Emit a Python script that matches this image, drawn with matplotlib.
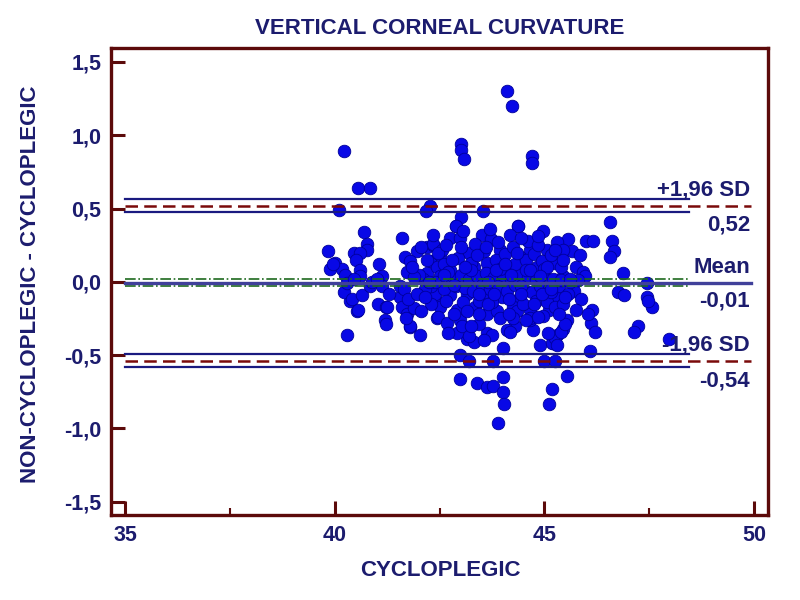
import matplotlib
matplotlib.use("Agg")
import matplotlib.pyplot as plt

plt.rcParams['font.family'] = ['Liberation Sans', 'DejaVu Sans']
plt.rcParams['font.weight'] = 'bold'

NAVY = '#1c1c6e'
MAROON = '#5c0a0a'

# cycloplegic value and (non-cycloplegic - cycloplegic) difference
cyclo = [
    44.11, 44.22, 43.01, 43.01, 43.07, 44.70, 44.70, 40.22, 40.56, 40.84,
    40.09, 42.27, 42.17, 43.54, 43.01, 42.88, 46.57, 46.60, 46.65, 46.57,
    46.88, 47.44, 47.44, 44.97, 44.38, 46.00, 46.15, 46.76, 46.90, 47.56,
    47.47, 47.24, 47.14, 47.96, 46.11, 46.21, 46.09, 45.57, 45.65, 45.85,
    45.75, 45.92, 45.96, 45.71, 45.87, 45.75, 46.13, 45.53, 45.45, 45.29,
    45.21, 44.90, 45.17, 45.25, 45.09, 45.40, 45.49, 44.98, 45.25, 45.53,
    45.17, 45.12, 42.99, 43.19, 43.78, 42.99, 43.38, 43.64, 43.77, 44.00,
    44.00, 44.04, 43.89, 42.04, 41.80, 43.15, 43.31, 43.63, 43.75, 42.91,
    43.43, 44.18, 44.30, 44.73, 44.65, 40.29, 40.37, 40.54, 41.04, 41.22,
    41.20, 41.22, 40.70, 39.85, 40.78, 40.76, 40.45, 40.61, 40.50, 40.01,
    39.89, 40.17, 40.25, 40.61, 40.61, 41.06, 41.12, 41.61, 41.95, 41.68,
    41.80, 41.72, 42.19, 42.35, 42.27, 42.19, 40.21, 40.41, 40.55, 40.65,
    40.85, 41.12, 41.24, 41.56, 41.60, 41.72, 41.88, 41.80, 41.56, 42.43,
    42.39, 42.88, 44.38, 42.75, 43.50, 44.18, 42.34, 42.99, 43.73, 44.66,
    45.06, 45.26, 42.51, 43.19, 43.94, 44.42, 43.31, 43.63, 44.18, 44.82,
    42.75, 42.43, 42.39, 42.75, 43.15, 43.54, 43.98, 44.42, 44.90, 45.30,
    42.51, 42.91, 43.35, 43.79, 44.26, 44.66, 45.10, 42.47, 42.67, 42.99,
    43.63, 43.87, 44.34, 44.66, 44.97, 44.10, 43.03, 43.19, 44.18, 45.30,
    42.10, 42.30, 42.50, 42.60, 42.80, 42.90, 43.00, 43.10, 43.20, 43.30,
    43.40, 43.50, 43.60, 43.70, 43.80, 43.90, 44.00, 44.10, 44.20, 44.30,
    44.40, 44.50, 44.60, 44.70, 44.80, 44.90, 45.00, 45.10, 45.20, 45.35,
    45.45, 42.20, 42.60, 42.95, 43.25, 43.55, 43.85, 44.05, 44.30, 44.55,
    44.75, 44.95, 45.15, 45.40, 42.30, 42.65, 43.05, 43.45, 43.75, 44.15,
    44.50, 44.80, 45.05, 45.25, 45.45, 45.55, 43.00, 43.35, 43.90, 44.25,
    44.60, 45.30, 45.45, 42.55, 42.05, 42.00, 39.96, 40.30, 40.45, 40.90,
    41.30, 41.00, 42.15, 42.70, 43.25, 43.95, 44.55, 45.00, 45.40, 42.40,
    43.45, 44.25, 44.85, 45.15, 42.85, 43.65, 44.45, 45.60, 45.80, 46.05,
    41.65, 41.75, 41.70, 41.95, 41.90, 41.85, 42.05, 42.15, 42.25, 42.45,
    42.65, 42.80, 42.85, 43.10, 43.15, 43.40, 43.45, 43.60, 43.65, 43.85,
    43.95, 44.05, 44.15, 44.35, 44.45, 44.55, 44.65, 44.75, 44.85, 44.95,
    45.05, 45.15, 45.25, 45.35, 45.45, 45.50, 43.05, 43.70, 44.45, 44.85,
    42.70, 43.55, 42.60, 43.80, 44.20, 44.90, 45.60, 42.35, 43.25, 44.00,
]
diff = [
    1.30, 1.20, 0.94, 0.90, 0.84, 0.86, 0.81, 0.89, 0.64, 0.64,
    0.49, 0.52, 0.48, 0.48, 0.44, 0.38, 0.41, 0.28, 0.21, 0.17,
    0.06, -0.01, -0.10, 0.35, 0.38, 0.28, 0.28, -0.07, -0.09, -0.17,
    -0.13, -0.30, -0.34, -0.39, -0.28, -0.34, -0.47, 0.29, 0.21, 0.18,
    0.10, 0.07, 0.04, -0.06, -0.12, -0.19, -0.19, -0.26, -0.32, -0.36,
    -0.42, -0.43, -0.42, -0.38, -0.35, -0.34, -0.29, -0.54, -0.54, -0.64,
    -0.73, -0.83, -0.50, -0.54, -0.54, -0.66, -0.69, -0.72, -0.71, -0.65,
    -0.75, -0.83, -0.96, -0.36, -0.31, -0.39, -0.41, -0.35, -0.36, -0.35,
    -0.29, -0.33, -0.30, -0.33, -0.26, -0.36, -0.13, -0.20, -0.15, -0.17,
    -0.26, -0.29, 0.34, 0.21, 0.26, 0.22, 0.20, 0.20, 0.15, 0.13,
    0.09, 0.09, 0.05, 0.08, 0.04, 0.12, 0.04, 0.30, 0.21, 0.17,
    0.14, 0.07, 0.24, 0.25, 0.14, 0.06, -0.07, -0.12, -0.19, -0.09,
    -0.03, -0.03, -0.17, -0.10, -0.17, -0.22, -0.18, -0.30, -0.03, -0.25,
    -0.12, 0.38, 0.38, 0.30, 0.32, 0.32, 0.26, 0.30, 0.29, 0.22,
    0.22, 0.13, 0.18, 0.20, 0.22, 0.17, 0.10, 0.13, 0.10, 0.10,
    0.08, 0.10, -0.08, -0.09, -0.08, -0.10, -0.10, -0.10, -0.10, -0.10,
    -0.17, -0.19, -0.17, -0.19, -0.17, -0.19, -0.19, -0.24, -0.28, -0.26,
    -0.22, -0.20, -0.20, -0.25, -0.23, -0.33, -0.30, -0.37, -0.34, -0.43,
    0.02, -0.03, 0.04, -0.05, 0.02, -0.03, 0.05, -0.04, 0.02, -0.06,
    0.04, -0.02, 0.06, -0.05, 0.03, -0.03, 0.05, -0.06, 0.02, -0.02,
    0.06, -0.04, 0.03, -0.07, 0.01, -0.03, 0.05, -0.05, 0.02, -0.03,
    0.04, 0.15, 0.12, 0.16, 0.13, 0.21, 0.15, 0.19, 0.12, 0.15,
    0.19, 0.14, 0.18, 0.10, -0.15, -0.13, -0.14, -0.13, -0.14, -0.12,
    -0.15, -0.13, -0.14, -0.17, -0.15, -0.08, 0.24, 0.26, 0.27, 0.24,
    0.28, 0.27, 0.22, 0.22, 0.24, 0.05, 0.12, -0.01, 0.02, 0.00,
    -0.08, 0.02, -0.05, 0.07, 0.08, 0.09, 0.08, 0.09, 0.01, 0.00,
    -0.22, -0.25, -0.24, -0.07, -0.02, 0.00, -0.03, 0.00, 0.01, -0.22,
    -0.05, -0.12, -0.25, -0.08, 0.03, 0.10, -0.20, -0.10, 0.00, 0.20,
    0.25, 0.15, -0.22, 0.10, -0.20, 0.18, -0.08, 0.24, -0.15, 0.08,
    -0.25, 0.12, -0.22, 0.20, -0.08, -0.26, 0.08, -0.15, 0.25, -0.08,
    0.10, -0.05, 0.22, -0.22, 0.15, -0.10, 0.35, 0.36, 0.30, 0.31,
    -0.35, -0.40, 0.05, -0.08, 0.05, 0.04, 0.02, 0.32, -0.30, -0.45,
]

# Bland-Altman statistics
mean_diff = -0.007
mean_ci = [0.018, -0.027]
upper_loa = 0.518
upper_ci = [0.566, 0.477]
lower_loa = -0.540
lower_ci = [-0.489, -0.584]

fig = plt.figure(figsize=(8, 6), dpi=100)
ax = fig.add_axes([0.139, 0.142, 0.821, 0.778])

ax.scatter(cyclo, diff, s=82, facecolor='#0808e6', edgecolor='#00009a',
           linewidth=0.6, zorder=2)

x0, x1, x2 = 35.0, 49.93, 48.45
for yv in upper_ci + lower_ci:
    ax.plot([x0, x2], [yv, yv], color='#1a1a80', lw=1.6, zorder=3)
for yv in [upper_loa, lower_loa]:
    ax.plot([x0, x1], [yv, yv], color='#7a0a0a', lw=1.8, ls=(0, (5, 2.5)), zorder=3)
for yv in mean_ci:
    ax.plot([x0, x2], [yv, yv], color='#1e6a1e', lw=1.2, ls='-.', zorder=3)
ax.plot([x0, x1], [mean_diff, mean_diff], color='#40409a', lw=2.4, zorder=3)

tx = 49.9
kw = dict(ha='right', va='center', color=NAVY, fontsize=16, fontweight='bold')
ax.text(tx, 0.627, '+1,96 SD', **kw)
ax.text(tx, 0.39, '0,52', **kw)
ax.text(tx, 0.10, 'Mean', **kw)
ax.text(tx, -0.13, '-0,01', **kw)
ax.text(tx, -0.43, '-1,96 SD', **kw)
ax.text(tx, -0.675, '-0,54', **kw)

ax.set_xlim(34.67, 50.33)
ax.set_ylim(-1.589, 1.595)
ax.set_xticks([35, 40, 45, 50])
ax.set_xticks([37.5, 42.5, 47.5], minor=True)
ax.set_yticks([-1.5, -1.0, -0.5, 0.0, 0.5, 1.0, 1.5])
ax.set_yticklabels(['-1,5', '-1,0', '-0,5', '0,0', '0,5', '1,0', '1,5'])

for sp in ax.spines.values():
    sp.set_color(MAROON)
    sp.set_linewidth(2.4)
ax.tick_params(axis='both', which='major', direction='in', length=10, width=2.2,
               color=MAROON, labelcolor=NAVY, labelsize=15.5, pad=7)
ax.tick_params(axis='x', which='minor', direction='in', length=5, width=1.5, color=MAROON)
for lbl in ax.get_xticklabels() + ax.get_yticklabels():
    lbl.set_fontweight('bold')

fig.text(0.55, 0.953, 'VERTICAL CORNEAL CURVATURE', ha='center', va='center',
         color=NAVY, fontsize=16, fontweight='bold')
fig.text(0.55, 0.05, 'CYCLOPLEGIC', ha='center', va='center',
         color=NAVY, fontsize=16, fontweight='bold')
fig.text(0.038, 0.527, 'NON-CYCLOPLEGIC - CYCLOPLEGIC', ha='center', va='center',
         rotation=90, color=NAVY, fontsize=16, fontweight='bold')

fig.savefig('out.png', dpi=100)
